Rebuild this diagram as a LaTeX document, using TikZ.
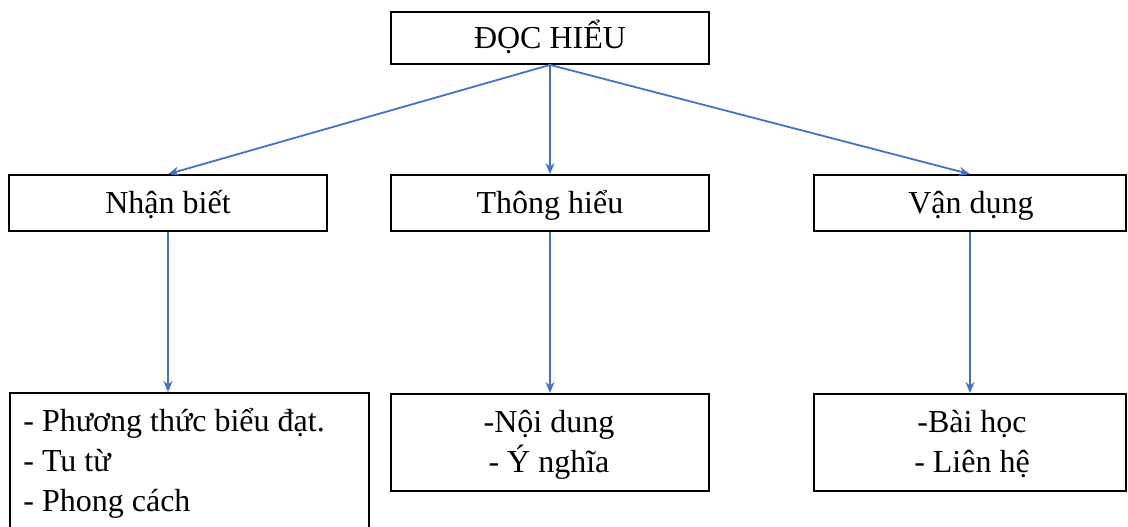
\documentclass[tikz,border=0pt]{standalone}
\usepackage{fontspec}
\setmainfont{Liberation Serif}
\usetikzlibrary{arrows.meta}
\definecolor{linkblue}{HTML}{4472C4}
\begin{document}
\begin{tikzpicture}[x=0.5pt,y=-0.5pt,
  box/.style={draw=black,line width=0.9pt,inner sep=0pt},
  headbox/.style={box,minimum width=159pt,minimum height=26pt},
  txt/.style={inner sep=0pt,font=\fontsize{16}{20}\selectfont},
  link/.style={draw=linkblue,line width=0.9pt,-{Stealth[length=5.5pt,width=4.5pt]}}
]
\useasboundingbox (0,0) rectangle (1128,526);

% top level
\node[headbox,minimum height=26pt] (top) at (550,38) {};
\node[txt,anchor=base] (topT) at (550,48) {ĐỌC HIỂU};

% second level
\node[headbox,minimum height=28pt] (nb) at (168,203) {};
\node[txt,anchor=base] (nbT) at (168,213) {Nhận biết};
\node[headbox,minimum height=28pt] (th) at (550,203) {};
\node[txt,anchor=base] (thT) at (550,213) {Thông hiểu};
\node[box,minimum width=156pt,minimum height=28pt] (vd) at (970,203) {};
\node[txt,anchor=base] (vdT) at (971,213) {Vận dụng};

% third level
\node[box,anchor=north west,minimum width=179.5pt,minimum height=84pt] (nbL) at (9,392) {};
\node[txt,anchor=base west] (nbL1) at (23,431) {- Phương thức biểu đạt.};
\node[txt,anchor=base west] (nbL2) at (23,471) {- Tu từ};
\node[txt,anchor=base west] (nbL3) at (23,511) {- Phong cách};

\node[box,anchor=north,minimum width=159pt,minimum height=48.5pt] (thL) at (550,393) {};
\node[txt,anchor=base] (thL1) at (549,432) {-Nội dung};
\node[txt,anchor=base] (thL2) at (549,472) {- Ý nghĩa};

\node[box,anchor=north,minimum width=156pt,minimum height=48.5pt] (vdL) at (970,393) {};
\node[txt,anchor=base] (vdL1) at (972,432) {-Bài học};
\node[txt,anchor=base] (vdL2) at (972,472) {- Liên hệ};

% connectors
\draw[link] (top.south) -- (nb.north);
\draw[link] (top.south) -- (th.north);
\draw[link] (top.south) -- (vd.north);
\draw[link] (nb.south) -- (nbL.north -| nb.south);
\draw[link] (th.south) -- (thL.north);
\draw[link] (vd.south) -- (vdL.north);
\end{tikzpicture}
\end{document}
